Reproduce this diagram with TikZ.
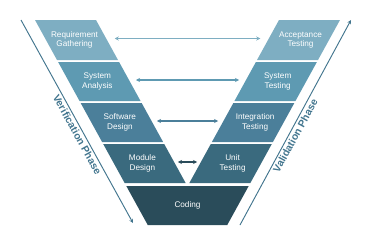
\documentclass[tikz,border=0pt]{standalone}
\usepackage{fontspec}
\setmainfont{Liberation Sans}
\usetikzlibrary{arrows.meta}
\definecolor{rowA}{HTML}{7EAEC2}
\definecolor{rowB}{HTML}{5E9AB2}
\definecolor{rowC}{HTML}{4B7F9A}
\definecolor{rowD}{HTML}{3A6A7E}
\definecolor{rowE}{HTML}{2A4C5A}
\definecolor{phaseblue}{HTML}{42758E}
\begin{document}
\begin{tikzpicture}[x=0.03cm, y=-0.03cm, >={Stealth[length=3.4pt,width=3.4pt]},
  stagetext/.style={text=white, font=\fontsize{7}{8.2}\selectfont, align=center},
  phaseline/.style={draw=phaseblue, line width=0.8pt},
  phaselabel/.style={text=phaseblue, font=\bfseries\fontsize{8.8}{10}\selectfont, sloped, inner sep=1.5pt}]
\useasboundingbox (0,0) rectangle (373,248);
% left and right bands
\foreach \i/\t/\b/\col/\acol/\lname/\rname in {
  1/20/60/rowA/rowA/{Requirement\\Gathering}/{Acceptance\\Testing},
  2/62/101/rowB/rowB/{System\\Analysis}/{System\\Testing},
  3/103/142/rowC/rowC/{Software\\Design}/{Integration\\Testing},
  4/144/183/rowD/rowE/{Module\\Design}/{Unit\\Testing}}{
  \pgfmathsetmacro\m{(\t+\b)/2}
  \fill[\col] ({35+0.55*(\t-20)},\t) -- ({96+0.55*(\t-20)},\t) -- ({96+0.55*(\b-20)},\b) -- ({35+0.55*(\b-20)},\b) -- cycle;
  \fill[\col] ({340-0.55*(\t-20)},\t) -- ({279-0.55*(\t-20)},\t) -- ({279-0.55*(\b-20)},\b) -- ({340-0.55*(\b-20)},\b) -- cycle;
  \node[stagetext] (left\i) at ({63.5+0.55*(\m-20)},\m) {\lname};
  \node[stagetext] (right\i) at ({311.5-0.55*(\m-20)},\m) {\rname};
  \coordinate (la\i) at ({115+0.512*(\m-40.5)},{\m-1.5});
  \coordinate (ra\i) at ({260-0.512*(\m-40.5)},{\m-1.5});
  \draw[<->, \acol, line width=0.9pt] (la\i) -- (ra\i);
}
% coding
\fill[rowE] (126.3,186) -- (248.7,186) -- (227.25,225) -- (147.75,225) -- cycle;
\node[stagetext] (coding) at (187.5,205.5) {Coding};
% phases
\coordinate (vtop) at (21,20);
\coordinate (vbot) at (133,223);
\coordinate (tbot) at (240,225);
\coordinate (ttop) at (351,20);
\draw[phaseline, ->] (vtop) -- node[phaselabel, below, pos=0.55] {Verification Phase} (vbot);
\draw[phaseline, ->] (tbot) -- node[phaselabel, below, pos=0.45] {Validation Phase} (ttop);
\end{tikzpicture}
\end{document}
